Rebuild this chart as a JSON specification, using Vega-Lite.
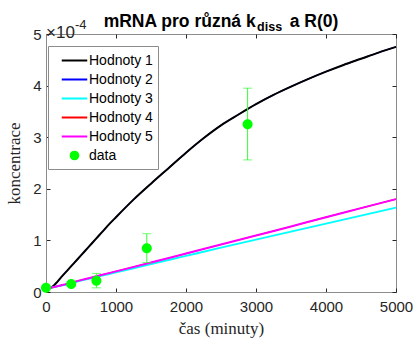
{
  "$schema": "https://vega.github.io/schema/vega-lite/v6.json",
  "width": 350,
  "height": 258,
  "autosize": {"type": "none"},
  "padding": {"left": 46, "top": 34, "right": 19, "bottom": 46},
  "background": "white",
  "title": {
    "text": "mRNA pro různá k\u00a0\u00a0\u00a0\u00a0\u00a0\u00a0\u00a0a R(0)",
    "subtitle": "\u200b\u00a0\u00a0\u00a0\u00a0\u00a0\u00a0\u00a0\u00a0\u00a0\u00a0\u00a0\u00a0\u00a0\u00a0\u00a0\u00a0\u00a0\u00a0\u00a0\u00a0\u00a0\u00a0\u00a0\u00a0\u00a0\u00a0\u00a0\u00a0diss",
    "anchor": "middle",
    "font": "Liberation Sans",
    "fontSize": 17.5,
    "fontWeight": "bold",
    "color": "#000000",
    "subtitleFont": "Liberation Sans",
    "subtitleFontSize": 12.5,
    "subtitleFontWeight": "bold",
    "subtitleColor": "#000000",
    "subtitlePadding": -10,
    "offset": -14
  },
  "config": {
    "view": {"stroke": "#8c8c8c", "strokeWidth": 1},
    "axis": {
      "grid": false,
      "labelFont": "Liberation Sans",
      "labelFontSize": 15,
      "labelColor": "#262626",
      "tickColor": "#262626",
      "tickSize": -4,
      "domainColor": "#8c8c8c",
      "titleFont": "Liberation Serif",
      "titleFontSize": 17,
      "titleFontWeight": "normal",
      "titleColor": "#262626"
    }
  },
  "datasets": {
    "lines": [
      {"series": "Hodnoty 1", "t": 0, "c": 0.07}, {"series": "Hodnoty 1", "t": 50, "c": 0.075}, {"series": "Hodnoty 1", "t": 100, "c": 0.11}, {"series": "Hodnoty 1", "t": 150, "c": 0.18}, {"series": "Hodnoty 1", "t": 200, "c": 0.26}, {"series": "Hodnoty 1", "t": 300, "c": 0.41}, {"series": "Hodnoty 1", "t": 400, "c": 0.56}, {"series": "Hodnoty 1", "t": 500, "c": 0.71}, {"series": "Hodnoty 1", "t": 600, "c": 0.86}, {"series": "Hodnoty 1", "t": 700, "c": 1.01}, {"series": "Hodnoty 1", "t": 800, "c": 1.16}, {"series": "Hodnoty 1", "t": 900, "c": 1.31}, {"series": "Hodnoty 1", "t": 1000, "c": 1.45}, {"series": "Hodnoty 1", "t": 1250, "c": 1.79}, {"series": "Hodnoty 1", "t": 1500, "c": 2.1}, {"series": "Hodnoty 1", "t": 1750, "c": 2.4}, {"series": "Hodnoty 1", "t": 2000, "c": 2.7}, {"series": "Hodnoty 1", "t": 2250, "c": 2.98}, {"series": "Hodnoty 1", "t": 2500, "c": 3.23}, {"series": "Hodnoty 1", "t": 2750, "c": 3.44}, {"series": "Hodnoty 1", "t": 3000, "c": 3.64}, {"series": "Hodnoty 1", "t": 3250, "c": 3.82}, {"series": "Hodnoty 1", "t": 3500, "c": 3.98}, {"series": "Hodnoty 1", "t": 3750, "c": 4.13}, {"series": "Hodnoty 1", "t": 4000, "c": 4.27}, {"series": "Hodnoty 1", "t": 4250, "c": 4.4}, {"series": "Hodnoty 1", "t": 4500, "c": 4.52}, {"series": "Hodnoty 1", "t": 4750, "c": 4.64}, {"series": "Hodnoty 1", "t": 5000, "c": 4.75},
      {"series": "Hodnoty 2", "t": 0, "c": 0.07}, {"series": "Hodnoty 2", "t": 50, "c": 0.075}, {"series": "Hodnoty 2", "t": 100, "c": 0.11}, {"series": "Hodnoty 2", "t": 150, "c": 0.18}, {"series": "Hodnoty 2", "t": 200, "c": 0.26}, {"series": "Hodnoty 2", "t": 300, "c": 0.41}, {"series": "Hodnoty 2", "t": 400, "c": 0.56}, {"series": "Hodnoty 2", "t": 500, "c": 0.71}, {"series": "Hodnoty 2", "t": 600, "c": 0.86}, {"series": "Hodnoty 2", "t": 700, "c": 1.01}, {"series": "Hodnoty 2", "t": 800, "c": 1.16}, {"series": "Hodnoty 2", "t": 900, "c": 1.31}, {"series": "Hodnoty 2", "t": 1000, "c": 1.45}, {"series": "Hodnoty 2", "t": 1250, "c": 1.79}, {"series": "Hodnoty 2", "t": 1500, "c": 2.1}, {"series": "Hodnoty 2", "t": 1750, "c": 2.4}, {"series": "Hodnoty 2", "t": 2000, "c": 2.7}, {"series": "Hodnoty 2", "t": 2250, "c": 2.98}, {"series": "Hodnoty 2", "t": 2500, "c": 3.23}, {"series": "Hodnoty 2", "t": 2750, "c": 3.44}, {"series": "Hodnoty 2", "t": 3000, "c": 3.64}, {"series": "Hodnoty 2", "t": 3250, "c": 3.82}, {"series": "Hodnoty 2", "t": 3500, "c": 3.98}, {"series": "Hodnoty 2", "t": 3750, "c": 4.13}, {"series": "Hodnoty 2", "t": 4000, "c": 4.27}, {"series": "Hodnoty 2", "t": 4250, "c": 4.4}, {"series": "Hodnoty 2", "t": 4500, "c": 4.52}, {"series": "Hodnoty 2", "t": 4750, "c": 4.64}, {"series": "Hodnoty 2", "t": 5000, "c": 4.75},
      {"series": "Hodnoty 3", "t": 0, "c": 0.07}, {"series": "Hodnoty 3", "t": 100, "c": 0.09}, {"series": "Hodnoty 3", "t": 250, "c": 0.135}, {"series": "Hodnoty 3", "t": 500, "c": 0.22}, {"series": "Hodnoty 3", "t": 1000, "c": 0.38}, {"series": "Hodnoty 3", "t": 1500, "c": 0.54}, {"series": "Hodnoty 3", "t": 2000, "c": 0.7}, {"series": "Hodnoty 3", "t": 2500, "c": 0.86}, {"series": "Hodnoty 3", "t": 3000, "c": 1.015}, {"series": "Hodnoty 3", "t": 3500, "c": 1.17}, {"series": "Hodnoty 3", "t": 4000, "c": 1.325}, {"series": "Hodnoty 3", "t": 4500, "c": 1.48}, {"series": "Hodnoty 3", "t": 5000, "c": 1.635},
      {"series": "Hodnoty 4", "t": 0, "c": 0.07}, {"series": "Hodnoty 4", "t": 100, "c": 0.09}, {"series": "Hodnoty 4", "t": 250, "c": 0.14}, {"series": "Hodnoty 4", "t": 500, "c": 0.23}, {"series": "Hodnoty 4", "t": 1000, "c": 0.4}, {"series": "Hodnoty 4", "t": 1500, "c": 0.57}, {"series": "Hodnoty 4", "t": 2000, "c": 0.745}, {"series": "Hodnoty 4", "t": 2500, "c": 0.92}, {"series": "Hodnoty 4", "t": 3000, "c": 1.095}, {"series": "Hodnoty 4", "t": 3500, "c": 1.27}, {"series": "Hodnoty 4", "t": 4000, "c": 1.45}, {"series": "Hodnoty 4", "t": 4500, "c": 1.625}, {"series": "Hodnoty 4", "t": 5000, "c": 1.8},
      {"series": "Hodnoty 5", "t": 0, "c": 0.07}, {"series": "Hodnoty 5", "t": 100, "c": 0.09}, {"series": "Hodnoty 5", "t": 250, "c": 0.14}, {"series": "Hodnoty 5", "t": 500, "c": 0.23}, {"series": "Hodnoty 5", "t": 1000, "c": 0.4}, {"series": "Hodnoty 5", "t": 1500, "c": 0.57}, {"series": "Hodnoty 5", "t": 2000, "c": 0.745}, {"series": "Hodnoty 5", "t": 2500, "c": 0.92}, {"series": "Hodnoty 5", "t": 3000, "c": 1.095}, {"series": "Hodnoty 5", "t": 3500, "c": 1.27}, {"series": "Hodnoty 5", "t": 4000, "c": 1.45}, {"series": "Hodnoty 5", "t": 4500, "c": 1.625}, {"series": "Hodnoty 5", "t": 5000, "c": 1.8}
    ],
    "obs": [
      {"series": "data", "t": 0, "c": 0.08, "lo": 0.06, "hi": 0.1},
      {"series": "data", "t": 360, "c": 0.155, "lo": 0.12, "hi": 0.19},
      {"series": "data", "t": 720, "c": 0.22, "lo": 0.08, "hi": 0.36},
      {"series": "data", "t": 1440, "c": 0.85, "lo": 0.57, "hi": 1.13},
      {"series": "data", "t": 2880, "c": 3.25, "lo": 2.56, "hi": 3.95}
    ]
  },
  "resolve": {"axis": {"x": "independent", "y": "independent"}},
  "layer": [
    {
      "data": {"name": "lines"},
      "transform": [{"filter": "datum.series == 'Hodnoty 2' || datum.series == 'Hodnoty 4'"}],
      "mark": {"type": "line", "strokeWidth": 1.2, "interpolate": "monotone"},
      "encoding": {
        "x": {"field": "t", "type": "quantitative", "scale": {"domain": [0, 5000], "nice": false},
          "axis": {"orient": "bottom", "values": [0, 1000, 2000, 3000, 4000, 5000], "format": "d", "title": "čas (minuty)", "labelPadding": 11, "titlePadding": 6, "labelFlush": false}},
        "y": {"field": "c", "type": "quantitative", "scale": {"domain": [0, 5], "nice": false},
          "axis": {"orient": "left", "values": [0, 1, 2, 3, 4, 5], "format": "d", "title": "koncentrace", "labelPadding": 9, "titlePadding": 9, "labelFlush": false}},
        "color": {"field": "series", "type": "nominal",
          "scale": {"domain": ["Hodnoty 1", "Hodnoty 2", "Hodnoty 3", "Hodnoty 4", "Hodnoty 5", "data"],
                    "range": ["#000000", "#0000ff", "#00ffff", "#ff0000", "#ff00ff", "#00ff00"]},
          "legend": {
            "title": null, "orient": "none", "legendX": 2, "legendY": 12, "direction": "vertical",
            "strokeColor": "#8c8c8c", "fillColor": "#ffffff", "padding": 5,
            "labelFont": "Liberation Sans", "labelFontSize": 14, "labelColor": "#000000",
            "labelOffset": 5, "symbolOffset": 12,
            "symbolSize": 289, "symbolStrokeWidth": 2, "rowPadding": 2
          }}
      }
    },
    {
      "data": {"name": "lines"},
      "transform": [{"filter": "datum.series == 'Hodnoty 1' || datum.series == 'Hodnoty 3' || datum.series == 'Hodnoty 5'"}],
      "mark": {"type": "line", "strokeWidth": 2, "interpolate": "monotone"},
      "encoding": {
        "x": {"field": "t", "type": "quantitative", "scale": {"domain": [0, 5000], "nice": false},
          "axis": {"orient": "top", "values": [0, 1000, 2000, 3000, 4000, 5000], "labels": false, "title": null, "domain": false}},
        "y": {"field": "c", "type": "quantitative", "scale": {"domain": [0, 5], "nice": false},
          "axis": {"orient": "right", "values": [0, 1, 2, 3, 4, 5], "labels": false, "title": null, "domain": false}},
        "color": {"field": "series", "type": "nominal"}
      }
    },
    {
      "data": {"name": "obs"},
      "mark": {"type": "rule", "color": "#33ff33", "strokeWidth": 1},
      "encoding": {
        "x": {"field": "t", "type": "quantitative", "axis": null},
        "y": {"field": "lo", "type": "quantitative", "axis": null},
        "y2": {"field": "hi"}
      }
    },
    {
      "data": {"name": "obs"},
      "mark": {"type": "tick", "orient": "horizontal", "color": "#33ff33", "size": 9, "thickness": 1},
      "encoding": {
        "x": {"field": "t", "type": "quantitative", "axis": null},
        "y": {"field": "lo", "type": "quantitative", "axis": null}
      }
    },
    {
      "data": {"name": "obs"},
      "mark": {"type": "tick", "orient": "horizontal", "color": "#33ff33", "size": 9, "thickness": 1},
      "encoding": {
        "x": {"field": "t", "type": "quantitative", "axis": null},
        "y": {"field": "hi", "type": "quantitative", "axis": null}
      }
    },
    {
      "data": {"name": "obs"},
      "mark": {"type": "point", "filled": true, "size": 494, "opacity": 1, "strokeWidth": 0},
      "encoding": {
        "x": {"field": "t", "type": "quantitative", "axis": null},
        "y": {"field": "c", "type": "quantitative", "axis": null},
        "color": {"field": "series", "type": "nominal"},
        "shape": {"field": "series", "type": "nominal",
          "scale": {"domain": ["Hodnoty 1", "Hodnoty 2", "Hodnoty 3", "Hodnoty 4", "Hodnoty 5", "data"],
                    "range": ["M-1.5,0H1.5", "M-1.5,0H1.5", "M-1.5,0H1.5", "M-1.5,0H1.5", "M-1.5,0H1.5", "M-0.45,0A0.45,0.45,0,1,0,0.45,0A0.45,0.45,0,1,0,-0.45,0Z"]}}
      }
    },
    {
      "data": {"values": [{"label": "×10"}]},
      "mark": {"type": "text", "align": "left", "baseline": "alphabetic", "dx": 0, "dy": 4, "font": "Liberation Sans", "fontSize": 17, "color": "#262626"},
      "encoding": {
        "x": {"datum": 0, "type": "quantitative", "axis": null},
        "y": {"datum": 5, "type": "quantitative", "axis": null},
        "text": {"field": "label"}
      }
    },
    {
      "data": {"values": [{"label": "-4"}]},
      "mark": {"type": "text", "align": "left", "baseline": "alphabetic", "dx": 29, "dy": -5, "font": "Liberation Sans", "fontSize": 13, "color": "#262626"},
      "encoding": {
        "x": {"datum": 0, "type": "quantitative", "axis": null},
        "y": {"datum": 5, "type": "quantitative", "axis": null},
        "text": {"field": "label"}
      }
    }
  ]
}
